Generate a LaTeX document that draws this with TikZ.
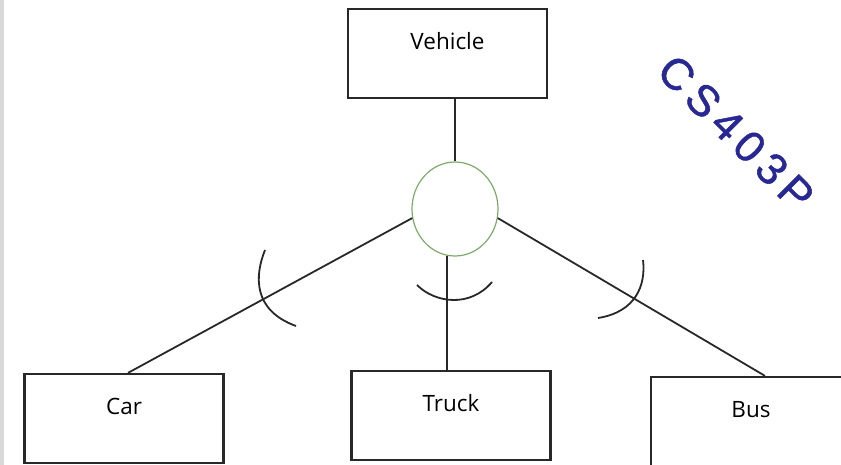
\documentclass[tikz,border=0pt]{standalone}
\usepackage{fontspec}
\setmainfont{Open Sans}
\newfontfamily\wmfont[LetterSpace=16,FakeBold=1.2]{Liberation Sans}
\usetikzlibrary{shapes.geometric}
\definecolor{boxline}{RGB}{40,40,40}
\definecolor{hubgreen}{RGB}{125,170,105}
\definecolor{wmblue}{RGB}{40,40,148}

\begin{document}
\begin{tikzpicture}[
  x=1pt, y=-1pt,
  font=\fontsize{22.5}{26}\selectfont,
  box/.style={draw=boxline, line width=2.2pt, minimum width=199pt, minimum height=89pt, text height=14pt, text depth=22pt},
  hub/.style={ellipse, draw=hubgreen, line width=1.2pt, minimum width=86pt, minimum height=94pt},
  link/.style={draw=boxline, line width=1.8pt}
]
\useasboundingbox (0,0) rectangle (841,465);
\fill[gray!30] (0,0) rectangle (4,465);

% Vehicle
\node[box] (veh) at (447.5,53.5) {Vehicle};

% junction circle
\node[hub] (hub) at (455,209) {};

% Car, Truck, Bus
\node[box] (car) at (124,418.5) {Car};
\node[box] (truck) at (451,415.5) {Truck};
\node[box, minimum width=200pt] (bus) at (751,421.5) {Bus};

% links
\draw[link] (hub.north) -- (hub.north |- veh.south);
\draw[link] (hub.192) -- ([xshift=4pt]car.north);
\draw[link] (hub.260) -- (hub.260 |- truck.north);
\draw[link] (hub.-12) -- ([xshift=14pt]bus.north);

% arc marks
\draw[link] (265,250) .. controls (255,275) and (252,310) .. (296,326);
\draw[link] (417,285) .. controls (435,303) and (470,308) .. (492,282);
\draw[link] (643,260) .. controls (646,285) and (636,312) .. (598,318);

% watermark
\node[rotate=-45, text=wmblue, font=\wmfont\fontsize{44}{50}\selectfont] (wm) at (736,133) {CS403P};

\end{tikzpicture}
\end{document}
